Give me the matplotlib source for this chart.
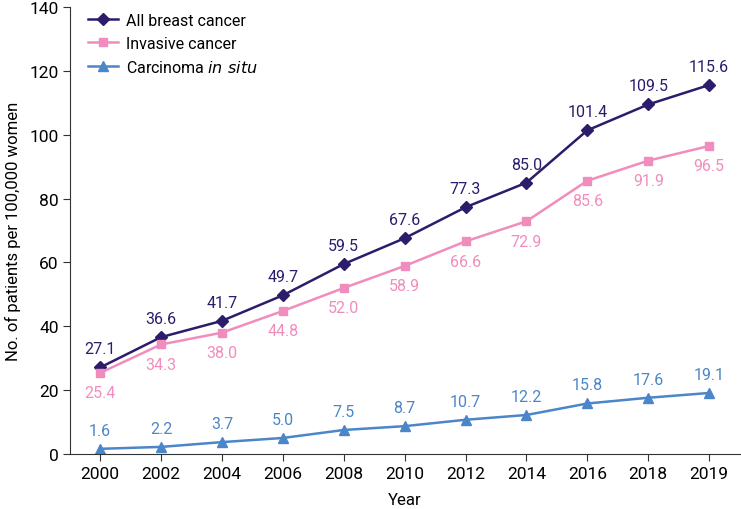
import matplotlib.pyplot as plt

plt.rcParams['font.family'] = ['Roboto', 'DejaVu Sans']

years = ['2000', '2002', '2004', '2006', '2008', '2010', '2012', '2014', '2016', '2018', '2019']
all_bc = [27.1, 36.6, 41.7, 49.7, 59.5, 67.6, 77.3, 85.0, 101.4, 109.5, 115.6]
invasive = [25.4, 34.3, 38.0, 44.8, 52.0, 58.9, 66.6, 72.9, 85.6, 91.9, 96.5]
cis = [1.6, 2.2, 3.7, 5.0, 7.5, 8.7, 10.7, 12.2, 15.8, 17.6, 19.1]

c_all = '#2d1c6c'
c_inv = '#f08dbd'
c_cis = '#4a86c8'

fig = plt.figure(figsize=(7.41, 5.1), dpi=100)
ax = fig.add_axes([0.095, 0.108, 0.903, 0.876])
x = list(range(len(years)))

ax.plot(x, all_bc, color=c_all, lw=1.8, marker='D', ms=6, label='All breast cancer')
ax.plot(x, invasive, color=c_inv, lw=1.8, marker='s', ms=6, label='Invasive cancer')
ax.plot(x, cis, color=c_cis, lw=1.8, marker='^', ms=7, label='Carcinoma $\\it{in\\ situ}$')

for i in x:
    ax.annotate(f'{all_bc[i]:.1f}', (i, all_bc[i]), xytext=(0, 8), textcoords='offset points',
                ha='center', va='bottom', color=c_all, fontsize=11.5)
    ax.annotate(f'{invasive[i]:.1f}', (i, invasive[i]), xytext=(0, -9), textcoords='offset points',
                ha='center', va='top', color=c_inv, fontsize=11.5)
    ax.annotate(f'{cis[i]:.1f}', (i, cis[i]), xytext=(0, 8), textcoords='offset points',
                ha='center', va='bottom', color=c_cis, fontsize=11.5)

ax.set_xticks(x)
ax.set_xticklabels(years)
ax.set_xlim(-0.49, 10.5)
ax.set_ylim(0, 140)
ax.set_yticks(range(0, 141, 20))
ax.tick_params(labelsize=12.5, length=5, color='#333333')
ax.spines['top'].set_visible(False)
ax.spines['right'].set_visible(False)
ax.spines['left'].set_color('#333333')
ax.spines['bottom'].set_color('#333333')
ax.set_xlabel('Year', fontsize=12, labelpad=8)
ax.set_ylabel('No. of patients per 100,000 women', fontsize=12, labelpad=6)
ax.legend(loc='upper left', bbox_to_anchor=(0.005, 1.02), frameon=False, fontsize=11.5,
          handlelength=1.9, handletextpad=0.5, labelspacing=0.5)

fig.savefig('out.png', dpi=100)
